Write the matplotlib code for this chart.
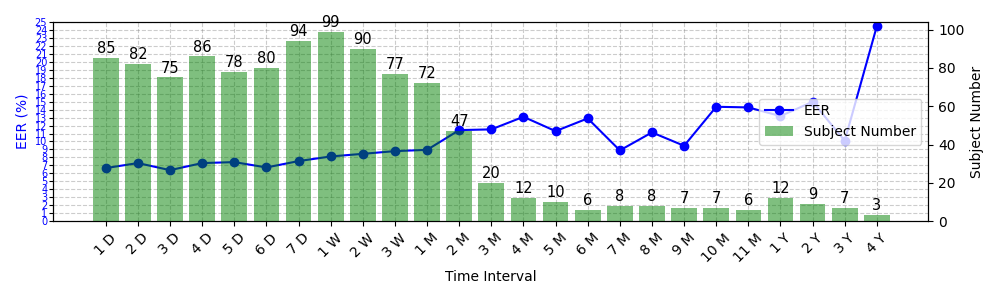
import matplotlib
matplotlib.use("Agg")
import matplotlib.pyplot as plt
import numpy as np

categories = ["1 D", "2 D", "3 D", "4 D", "5 D", "6 D", "7 D", "1 W", "2 W", "3 W",
              "1 M", "2 M", "3 M", "4 M", "5 M", "6 M", "7 M", "8 M", "9 M", "10 M",
              "11 M", "1 Y", "2 Y", "3 Y", "4 Y"]
eer = [6.66, 7.29, 6.4, 7.29, 7.41, 6.74, 7.54, 8.12, 8.45, 8.79,
       8.95, 11.43, 11.52, 13.1, 11.3, 12.9, 8.88, 11.14, 9.46, 14.36,
       14.28, 13.19, 14.99, 10.09, 24.5]
subjects = [85, 82, 75, 86, 78, 80, 94, 99, 90, 77,
            72, 47, 20, 12, 10, 6, 8, 8, 7, 7,
            6, 12, 9, 7, 3]

x = np.arange(len(categories))

fig = plt.figure(figsize=(9.96, 2.98), dpi=100)
ax1 = fig.add_axes([0.053, 0.258, 0.879, 0.668])
ax2 = ax1.twinx()

line, = ax1.plot(x, eer, color="blue", marker="o", markersize=6, linewidth=1.5, label="EER")
ax1.set_ylim(0, 25)
ax1.set_yticks(np.arange(0, 26, 1))
ax1.tick_params(axis="y", labelcolor="blue", labelsize=7, length=3, pad=1)
ax1.set_ylabel("EER (%)", color="blue", fontsize=10)
ax1.grid(True, linestyle="--", color="gray", alpha=0.4)
ax1.set_xticks(x)
ax1.set_xticklabels(categories, rotation=45, fontsize=10)
ax1.set_xlabel("Time Interval", fontsize=10)
ax1.set_xlim(-1.65, len(categories) - 1 + 1.6)

bars = ax2.bar(x, subjects, color="green", alpha=0.5, width=0.8, label="Subject Number")
ax2.set_ylim(0, max(subjects) * 1.05)
ax2.set_ylabel("Subject Number", fontsize=10)
for xi, v in zip(x, subjects):
    ax2.text(xi, v + 1, str(v), ha="center", va="bottom", fontsize=10.5)

ax2.legend([line, bars], ["EER", "Subject Number"], loc="center right", fontsize=10)

fig.savefig("out.png", dpi=100)
